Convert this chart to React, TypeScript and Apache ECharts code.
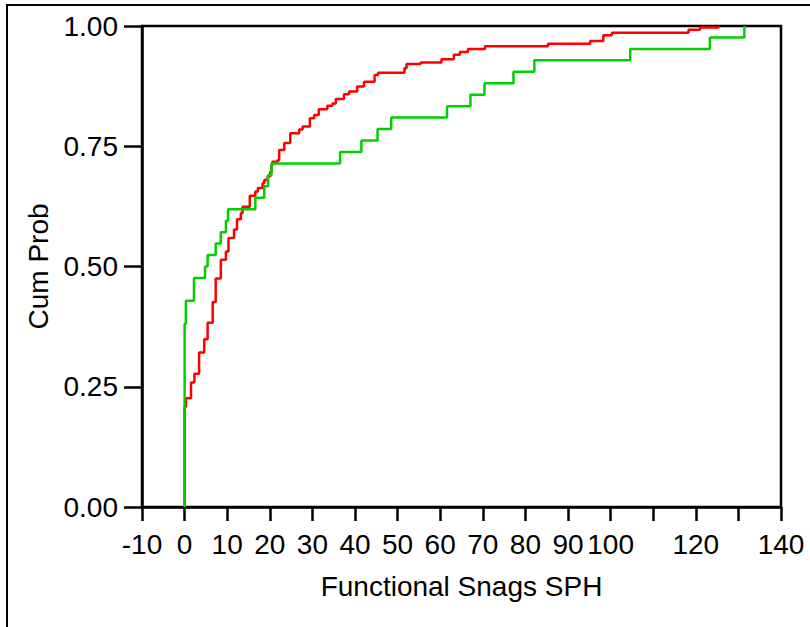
import React, { useEffect, useRef } from "react";
import * as echarts from "echarts";

const xTicks = [-10, 0, 10, 20, 30, 40, 50, 60, 70, 80, 90, 100, 110, 120, 130, 140];
const hiddenXLabels = [110, 130];
const yTicks = [0, 0.25, 0.5, 0.75, 1.0];

const redX = [0, 0, 0.3, 1.5, 2.3, 3.4, 4.6, 5.4, 6.6, 7.3, 8.5, 9.7, 10.3, 11.6, 12.3, 13.2, 13.6, 15.3, 16.6, 17.2, 18.3, 18.7, 19.5, 20.1, 20.4, 20.6, 21.8, 22.2, 23.4, 24.8, 26.9, 27.7, 29.4, 30.4, 31.5, 33.5, 34.7, 35.5, 37.4, 38.6, 40.5, 42.1, 44.6, 45.4, 51.6, 52.1, 55.4, 60.3, 63.2, 64.6, 66.5, 70.5, 85.3, 95.2, 98.3, 100.3, 118.3, 121.0, 125.3];
const redP = [0, 0.208, 0.226, 0.259, 0.277, 0.321, 0.349, 0.383, 0.426, 0.475, 0.514, 0.531, 0.559, 0.577, 0.598, 0.611, 0.624, 0.647, 0.656, 0.663, 0.673, 0.68, 0.687, 0.697, 0.711, 0.718, 0.721, 0.742, 0.757, 0.777, 0.785, 0.791, 0.808, 0.815, 0.827, 0.834, 0.839, 0.848, 0.858, 0.864, 0.874, 0.884, 0.898, 0.903, 0.912, 0.921, 0.924, 0.931, 0.94, 0.946, 0.952, 0.958, 0.963, 0.969, 0.981, 0.986, 0.992, 0.997, 1.0];

const greenX = [0, 0, 0.3, 2.2, 4.8, 5.4, 7.3, 8.5, 9.7, 10.2, 16.6, 18.7, 19.6, 20.4, 36.5, 41.5, 45.3, 48.5, 61.6, 67.1, 70.4, 77.2, 82.1, 104.6, 123.3, 131.4];
const greenP = [0, 0.381, 0.429, 0.476, 0.5, 0.524, 0.548, 0.571, 0.595, 0.619, 0.643, 0.667, 0.69, 0.714, 0.738, 0.762, 0.786, 0.81, 0.833, 0.857, 0.881, 0.905, 0.929, 0.952, 0.976, 1.0];

const xTitle = "Functional Snags SPH";
const yTitle = "Cum Prob";

const FONT = "'Liberation Sans', Arial, sans-serif";

export default function App() {
  const ref = useRef<HTMLDivElement>(null);
  useEffect(() => {
    document.body.style.margin = "0";
    if (!ref.current) return;
    const chart = echarts.init(ref.current, null, { renderer: "svg" });
    const axisStyle = { color: "#000", width: 2.5 };
    chart.setOption({
      animation: false,
      backgroundColor: "#fff",
      grid: {
        left: 142,
        right: 29,
        top: 26,
        bottom: 120,
        show: true,
        borderColor: "#000",
        borderWidth: 2.5,
        backgroundColor: "transparent",
      },
      graphic: [
        {
          type: "rect",
          shape: { x: 7, y: 5, width: 1000, height: 1000 },
          style: { fill: "none", stroke: "#000", lineWidth: 2 },
          silent: true,
        },
      ],
      xAxis: {
        type: "value",
        min: xTicks[0],
        max: xTicks[xTicks.length - 1],
        interval: 10,
        name: xTitle,
        nameLocation: "middle",
        nameGap: 65,
        nameTextStyle: { color: "#000", fontFamily: FONT, fontSize: 28 },
        axisLine: { show: true, onZero: false, lineStyle: axisStyle },
        axisTick: { show: true, length: 14, lineStyle: axisStyle },
        splitLine: { show: false },
        axisLabel: {
          color: "#000",
          fontFamily: FONT,
          fontSize: 28,
          margin: 23,
          hideOverlap: false,
          showMinLabel: true,
          showMaxLabel: true,
          formatter: (v: number) => (hiddenXLabels.includes(Math.round(v)) ? "" : String(Math.round(v))),
        },
      },
      yAxis: {
        type: "value",
        min: yTicks[0],
        max: yTicks[yTicks.length - 1],
        interval: 0.25,
        name: yTitle,
        nameLocation: "middle",
        nameGap: 77,
        nameTextStyle: { color: "#000", fontFamily: FONT, fontSize: 28 },
        axisLine: { show: true, onZero: false, lineStyle: axisStyle },
        axisTick: { show: true, length: 18, lineStyle: axisStyle },
        splitLine: { show: false },
        axisLabel: {
          color: "#000",
          fontFamily: FONT,
          fontSize: 28,
          margin: 24,
          formatter: (v: number) => v.toFixed(2),
        },
      },
      series: [
        {
          name: "red",
          type: "line",
          step: "end",
          symbol: "none",
          lineStyle: { color: "#ff0000", width: 2.5 },
          data: redX.map((x, i) => [x, redP[i]]),
          z: 3,
        },
        {
          name: "green",
          type: "line",
          step: "end",
          symbol: "none",
          lineStyle: { color: "#00d000", width: 2.5 },
          data: greenX.map((x, i) => [x, greenP[i]]),
          z: 4,
        },
      ],
    });
    return () => chart.dispose();
  }, []);
  return <div ref={ref} style={{ width: 810, height: 627 }} />;
}
